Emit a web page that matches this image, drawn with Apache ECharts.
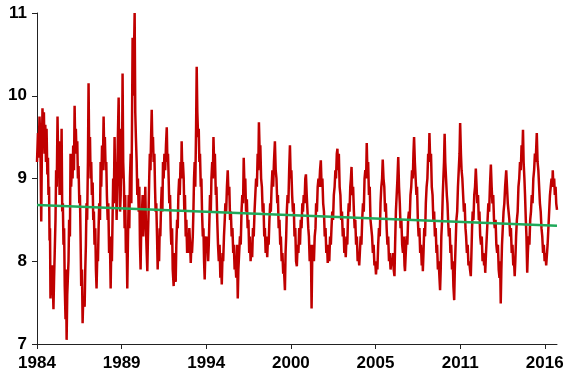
<!DOCTYPE html>
<html>
<head>
<meta charset="utf-8">
<script src="https://cdn.jsdelivr.net/npm/echarts@6/dist/echarts.min.js"></script>
<style>
html,body{margin:0;padding:0;background:#fff;}
#chart{width:584px;height:378px;}
</style>
</head>
<body>
<div id="chart"></div>
<script>
// Time since start of record (years after Jan 1984) and measured level
const startYear = 1984;
const yearOffset = [
0.00,0.06,0.10,0.16,0.22,0.27,0.31,0.35,0.40,0.44,
0.48,0.53,0.57,0.61,0.66,0.70,0.73,0.77,0.80,0.83,
0.86,0.90,0.94,0.99,1.02,1.05,1.09,1.13,1.18,1.22,
1.26,1.31,1.35,1.40,1.44,1.49,1.53,1.57,1.61,1.65,
1.69,1.73,1.77,1.82,1.85,1.89,1.93,1.97,2.01,2.05,
2.10,2.14,2.18,2.23,2.27,2.31,2.36,2.40,2.44,2.48,
2.52,2.57,2.61,2.65,2.70,2.74,2.78,2.82,2.87,2.91,
2.95,3.00,3.04,3.08,3.12,3.16,3.20,3.25,3.29,3.33,
3.38,3.42,3.46,3.50,3.55,3.59,3.63,3.67,3.72,3.76,
3.80,3.85,3.89,3.93,3.97,4.02,4.06,4.10,4.15,4.20,
4.25,4.29,4.33,4.38,4.42,4.46,4.51,4.55,4.60,4.65,
4.70,4.74,4.78,4.82,4.86,4.90,4.95,4.99,5.03,5.08,
5.12,5.16,5.21,5.25,5.30,5.34,5.38,5.42,5.46,5.50,
5.55,5.59,5.63,5.67,5.72,5.76,5.80,5.85,5.89,5.93,
5.98,6.02,6.06,6.10,6.14,6.18,6.23,6.27,6.31,6.36,
6.40,6.44,6.49,6.53,6.57,6.61,6.65,6.70,6.74,6.78,
6.83,6.87,6.91,6.95,7.00,7.04,7.08,7.12,7.16,7.20,
7.24,7.28,7.32,7.36,7.40,7.44,7.49,7.53,7.57,7.61,
7.66,7.70,7.74,7.79,7.83,7.87,7.92,7.96,8.00,8.04,
8.08,8.13,8.18,8.23,8.28,8.32,8.36,8.40,8.44,8.49,
8.53,8.57,8.62,8.66,8.72,8.76,8.80,8.85,8.89,8.94,
8.98,9.02,9.07,9.11,9.16,9.20,9.23,9.27,9.31,9.36,
9.40,9.44,9.49,9.53,9.58,9.63,9.68,9.72,9.77,9.81,
9.85,9.89,9.94,9.98,10.02,10.06,10.10,10.15,10.19,10.23,
10.28,10.32,10.36,10.40,10.45,10.49,10.53,10.58,10.62,10.66,
10.70,10.74,10.79,10.83,10.87,10.92,10.96,11.00,11.04,11.09,
11.13,11.18,11.22,11.26,11.30,11.35,11.41,11.45,11.50,11.55,
11.60,11.65,11.70,11.75,11.79,11.84,11.88,11.93,11.98,12.02,
12.07,12.12,12.17,12.22,12.27,12.32,12.37,12.42,12.47,12.52,
12.56,12.61,12.66,12.71,12.76,12.81,12.85,12.90,12.95,13.00,
13.05,13.10,13.15,13.19,13.24,13.29,13.34,13.39,13.44,13.49,
13.54,13.58,13.63,13.68,13.73,13.78,13.83,13.88,13.93,13.98,
14.03,14.08,14.12,14.16,14.21,14.25,14.30,14.35,14.40,14.45,
14.50,14.54,14.59,14.64,14.69,14.74,14.78,14.83,14.88,14.92,
14.97,15.02,15.07,15.12,15.18,15.23,15.28,15.33,15.37,15.42,
15.47,15.52,15.56,15.61,15.66,15.71,15.76,15.82,15.86,15.90,
15.94,15.99,16.04,16.09,16.14,16.19,16.23,16.28,16.33,16.38,
16.43,16.48,16.53,16.58,16.63,16.68,16.73,16.78,16.83,16.88,
16.93,16.97,17.02,17.07,17.12,17.16,17.21,17.26,17.31,17.35,
17.40,17.45,17.49,17.52,17.56,17.61,17.67,17.72,17.77,17.81,
17.86,17.91,17.96,18.01,18.06,18.11,18.16,18.21,18.26,18.31,
18.36,18.41,18.46,18.51,18.55,18.60,18.65,18.70,18.75,18.79,
18.84,18.89,18.94,18.99,19.04,19.08,19.13,19.17,19.21,19.26,
19.31,19.36,19.41,19.46,19.51,19.56,19.61,19.66,19.70,19.75,
19.80,19.84,19.89,19.94,19.99,20.03,20.07,20.12,20.17,20.22,
20.27,20.31,20.36,20.41,20.46,20.51,20.56,20.60,20.65,20.70,
20.75,20.80,20.85,20.90,20.95,21.00,21.04,21.08,21.13,21.18,
21.23,21.28,21.33,21.38,21.43,21.48,21.53,21.58,21.63,21.68,
21.72,21.77,21.82,21.87,21.92,21.97,22.02,22.06,22.11,22.16,
22.21,22.26,22.31,22.36,22.41,22.46,22.51,22.56,22.61,22.66,
22.71,22.76,22.81,22.85,22.90,22.95,23.00,23.05,23.10,23.15,
23.20,23.25,23.30,23.35,23.40,23.45,23.48,23.53,23.58,23.63,
23.68,23.73,23.78,23.83,23.88,23.93,23.98,24.02,24.06,24.11,
24.16,24.21,24.25,24.30,24.35,24.40,24.45,24.50,24.55,24.60,
24.62,24.66,24.71,24.76,24.81,24.86,24.91,24.96,25.00,25.04,
25.09,25.14,25.19,25.24,25.29,25.34,25.39,25.44,25.49,25.53,
25.58,25.63,25.68,25.72,25.76,25.80,25.85,25.89,25.93,25.97,
26.01,26.05,26.10,26.15,26.19,26.23,26.28,26.33,26.38,26.43,
26.48,26.53,26.57,26.62,26.66,26.71,26.76,26.81,26.86,26.91,
26.96,27.00,27.05,27.09,27.14,27.19,27.24,27.29,27.34,27.38,
27.43,27.48,27.53,27.58,27.63,27.68,27.72,27.76,27.80,27.85,
27.90,27.95,28.00,28.05,28.09,28.14,28.19,28.23,28.28,28.33,
28.38,28.43,28.48,28.53,28.58,28.60,28.65,28.70,28.75,28.80,
28.85,28.90,28.96,29.01,29.06,29.11,29.16,29.21,29.26,29.31,
29.36,29.41,29.46,29.51,29.55,29.59,29.63,29.67,29.72,29.77,
29.82,29.87,29.94,29.99,30.04,30.09,30.14,30.19,30.24,30.29,
30.34,30.39,30.44,30.48,30.52,30.57,30.62,30.67,30.72,30.77,
30.82,30.87,30.92,30.97,31.01,31.05,31.10,31.14,31.19,31.23,
31.28,31.32,31.37,31.42,31.47,31.52,31.57,31.62,31.67,31.72,
31.77,31.82,31.86,31.89,31.94,31.99,32.04,32.09,32.14,32.19,
32.24,32.29,32.34,32.39,32.44,32.49,32.54,32.58,32.63,32.68,
32.73,32.78,32.83,32.88,32.91,32.95,33.00,33.04,33.09,33.13,
33.18
];
const level = [
9.20,9.55,9.25,9.75,9.40,8.48,9.30,9.85,9.50,9.80,
9.30,9.65,9.20,9.60,9.05,9.25,8.80,8.90,8.25,8.40,
7.55,7.90,7.60,7.95,7.65,7.42,7.80,8.10,8.50,9.10,
8.90,9.75,9.20,9.45,8.80,9.30,8.90,9.60,8.60,8.70,
8.20,8.40,7.70,7.30,7.90,7.05,7.60,7.80,8.00,8.50,
8.30,9.30,8.90,9.20,9.00,9.40,9.10,9.88,9.40,9.60,
9.30,9.45,9.00,9.15,8.70,8.80,8.30,7.70,7.90,7.25,
7.55,7.50,7.45,7.90,8.20,8.70,8.50,9.20,10.15,9.30,
9.50,9.00,9.20,8.80,8.95,8.50,8.60,8.20,8.40,7.90,
7.67,8.10,8.00,8.40,8.70,8.50,9.20,8.90,9.40,9.10,
9.75,9.30,9.50,9.10,9.20,8.80,8.50,8.70,8.10,8.30,
7.67,8.20,8.00,8.50,9.00,8.70,9.50,8.90,9.20,8.50,
9.00,9.50,9.98,9.20,8.60,8.80,9.60,9.00,10.27,9.20,
8.90,8.40,8.80,8.10,8.30,7.67,8.20,8.80,8.40,9.00,
9.30,8.70,9.60,10.70,10.00,10.40,11.00,9.80,9.50,9.20,
8.80,9.00,8.60,8.90,8.20,7.90,8.40,8.60,8.80,8.30,
8.70,8.50,8.90,8.40,8.10,7.88,8.30,8.60,9.00,9.30,
9.10,9.50,9.83,9.40,9.50,9.20,9.30,8.90,8.60,8.70,
8.30,7.90,8.20,8.00,8.40,8.30,8.70,8.90,8.60,9.20,
9.00,9.30,9.10,9.40,9.62,9.20,9.30,9.00,8.70,8.80,
8.40,8.20,8.40,7.90,7.70,8.10,7.90,7.75,8.20,8.50,
8.40,8.80,9.00,8.80,9.20,9.00,9.45,9.10,9.20,9.00,
8.60,8.80,8.30,8.50,8.10,8.30,8.10,8.40,8.20,7.98,
8.20,8.10,8.30,8.60,9.00,9.20,8.90,9.60,10.35,9.80,
9.50,9.60,9.20,9.30,8.90,9.00,8.60,8.30,8.40,8.00,
7.78,8.10,8.30,8.10,8.30,8.00,8.20,8.50,8.80,8.60,
9.00,9.20,9.00,9.50,9.20,9.30,8.80,8.90,8.50,8.20,
8.00,8.20,7.80,7.95,7.72,8.10,8.00,8.30,8.50,8.70,
8.60,8.90,9.10,8.80,8.90,8.50,8.60,8.30,8.40,8.10,
8.20,7.90,8.00,7.80,8.20,7.55,7.90,8.10,8.30,8.20,
8.60,8.80,8.70,9.25,8.90,9.00,8.60,8.75,8.40,8.50,
8.10,8.30,8.00,8.20,8.05,8.40,8.30,8.60,8.80,9.00,
8.90,9.30,9.10,9.68,9.30,9.40,9.00,8.90,8.60,8.70,
8.30,8.40,8.10,8.30,8.05,8.30,8.20,8.50,8.70,8.60,
8.90,9.10,8.90,9.20,9.45,9.10,9.00,8.70,8.80,8.40,
8.50,8.20,8.30,8.00,8.10,7.85,7.90,7.65,8.10,8.30,
8.60,8.80,8.70,9.10,9.40,9.00,9.10,8.80,8.60,8.70,
8.30,8.40,8.00,7.94,8.20,8.10,8.40,8.20,8.50,8.40,
8.70,8.60,8.80,8.70,9.00,9.05,8.80,8.60,8.40,8.30,
8.00,8.20,7.95,7.43,8.00,8.20,8.00,8.30,8.40,8.70,
8.60,8.90,9.00,8.90,9.10,9.22,8.90,9.00,8.70,8.60,
8.30,8.40,8.10,8.20,7.98,8.20,8.00,8.30,8.20,8.40,
8.60,8.50,8.80,8.90,9.10,9.00,9.30,9.36,9.10,9.30,
8.90,8.80,8.50,8.60,8.30,8.40,8.10,8.20,8.05,8.30,
8.20,8.50,8.70,8.60,8.90,9.00,9.14,8.80,8.90,8.60,
8.40,8.50,8.20,8.30,8.00,8.10,7.95,8.10,8.30,8.20,
8.50,8.70,8.60,9.00,9.10,9.00,9.43,9.10,9.20,8.80,
8.90,8.50,8.40,8.30,8.10,8.20,7.95,8.00,7.84,8.00,
7.90,8.20,8.40,8.30,8.70,8.90,9.00,9.23,9.00,8.90,
8.60,8.70,8.40,8.20,8.30,8.00,8.10,7.90,8.00,7.95,
8.10,7.90,7.82,8.20,8.60,8.80,9.00,9.26,8.90,8.70,
8.40,8.50,8.20,8.10,8.30,7.95,7.88,8.10,8.30,8.20,
8.50,8.60,8.50,8.80,8.90,9.10,9.00,9.30,9.50,9.20,
9.00,8.80,8.90,8.50,8.30,8.40,8.10,8.20,7.95,8.10,
7.88,8.10,8.40,8.30,8.70,8.90,9.00,9.30,9.20,9.55,
9.20,9.30,8.90,8.80,8.50,8.60,8.30,8.40,8.10,8.20,
7.90,8.00,7.80,7.65,7.90,8.30,8.50,8.80,9.00,9.20,
9.54,9.20,9.00,8.80,8.70,8.50,8.30,8.40,8.10,8.20,
7.90,8.00,7.70,7.53,7.90,8.20,8.50,8.60,8.90,9.10,
9.30,9.67,9.30,9.10,9.00,8.80,8.60,8.70,8.40,8.30,
8.10,8.20,7.95,8.00,7.90,7.82,8.10,8.40,8.60,8.50,
8.80,8.90,9.12,8.90,8.70,8.80,8.50,8.60,8.30,8.20,
8.30,8.00,8.10,7.95,8.00,7.86,8.10,8.30,8.50,8.70,
8.60,8.90,9.17,8.90,8.70,8.80,8.50,8.40,8.50,8.20,
8.10,8.20,7.90,7.80,8.00,7.49,7.90,8.20,8.40,8.60,
8.70,8.90,9.10,8.90,8.70,8.60,8.50,8.30,8.40,8.10,
8.20,7.95,8.00,7.82,8.00,8.30,8.50,8.60,8.90,9.00,
9.20,9.10,9.40,9.30,9.59,9.20,9.00,8.80,8.50,8.30,
7.86,8.10,8.30,8.20,8.50,8.60,8.80,8.70,9.00,9.10,
9.30,9.20,9.40,9.55,9.20,9.10,8.90,8.70,8.60,8.40,
8.30,8.10,8.20,8.00,8.10,7.95,7.94,8.20,8.40,8.60,
8.80,8.90,9.00,8.90,9.10,8.90,9.00,8.80,8.90,8.70,
8.62
];
// Linear trend: start and end
const trendOffset = [0, 33.18];
const trendLevel = [8.68, 8.43];
// Axis labels (one every 5.4 years)
const tickLabels = ['1984', '1989', '1994', '2000', '2005', '2011', '2016'];
const labelStep = 5.4;

const tickValues = tickLabels.map((_, i) => i * labelStep);
const lineData = yearOffset.map((t, i) => [t, level[i]]);
const trendData = trendOffset.map((t, i) => [t, trendLevel[i]]);

const chart = echarts.init(document.getElementById('chart'), null, {renderer: 'canvas'});
const font = {fontFamily: '"Liberation Sans", Arial, sans-serif', fontWeight: 'bold', fontSize: 17, color: '#000'};
chart.setOption({
  animation: false,
  backgroundColor: '#fff',
  grid: {left: 37, right: 27, top: 13, bottom: 34, containLabel: false, outerBoundsMode: 'none'},
  xAxis: {
    type: 'value',
    min: 0,
    max: trendOffset[1],
    splitLine: {show: false},
    axisLine: {lineStyle: {color: '#222', width: 1}},
    axisTick: {show: true, length: 5, inside: false, customValues: tickValues, lineStyle: {color: '#222'}},
    axisLabel: Object.assign({margin: 11, customValues: tickValues,
      formatter: v => tickLabels[Math.round(v / labelStep)] || ''}, font)
  },
  yAxis: {
    type: 'value',
    min: 7,
    max: 11,
    interval: 1,
    splitLine: {show: false},
    axisLine: {show: true, lineStyle: {color: '#222', width: 1}},
    axisTick: {show: true, length: 5, lineStyle: {color: '#222'}},
    axisLabel: Object.assign({margin: 10}, font)
  },
  series: [
    {
      type: 'line',
      data: lineData,
      showSymbol: false,
      symbol: 'none',
      lineStyle: {color: '#c00000', width: 2.5},
      z: 2
    },
    {
      type: 'line',
      data: trendData,
      showSymbol: false,
      symbol: 'none',
      lineStyle: {color: '#1fa95a', width: 2.5},
      z: 3
    }
  ]
});
</script>
</body>
</html>
